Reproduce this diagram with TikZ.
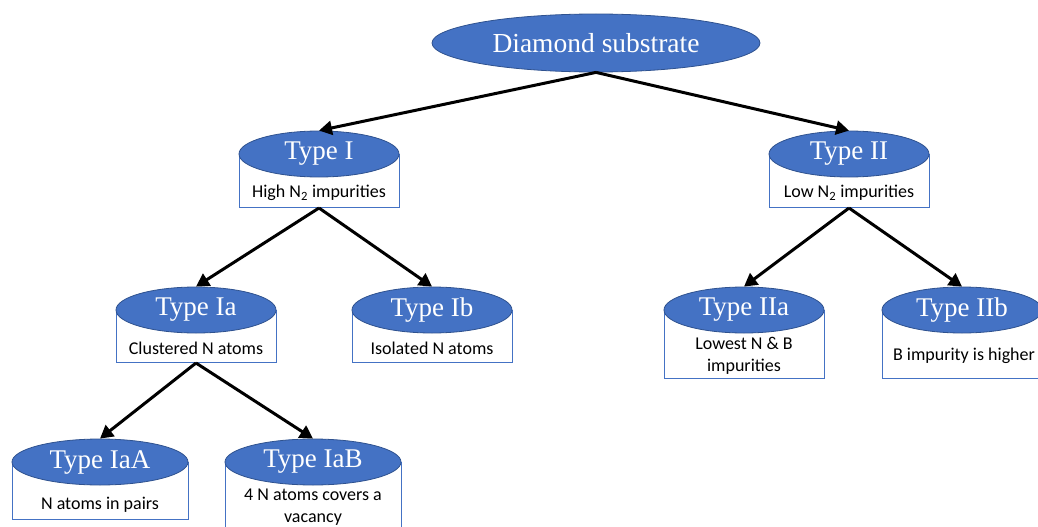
\documentclass[tikz,border=0pt]{standalone}
\usepackage{fontspec}
\setmainfont{Liberation Serif}
\newfontfamily\notefont{Carlito}
\usepackage{xcolor}
\usetikzlibrary{arrows.meta,positioning,shapes.geometric}

\definecolor{officeblue}{HTML}{4472C4}
\definecolor{officeedge}{HTML}{2F528F}

\begin{document}
\begin{tikzpicture}[
    x=1pt, y=-1pt,
    typeball/.style={ellipse, draw=officeedge, line width=0.8pt, fill=officeblue, text=white, inner sep=0pt,
        minimum width=160pt, minimum height=46pt, font=\fontsize{27}{30}\selectfont},
    typebox/.style={rectangle, draw=officeblue, line width=1pt, fill=white, anchor=north, inner sep=0pt, minimum width=160pt},
    note/.style={font=\notefont\fontsize{18}{22}\selectfont, align=center, inner sep=0pt},
    arrow/.style={-{Triangle[length=13pt,width=14pt]}, line width=3pt}
]
\useasboundingbox (0,0) rectangle (1038,527);

% root
\node[typeball, minimum width=328pt, minimum height=58pt, font=\fontsize{27.5}{30}\selectfont] (root) at (596,43) {Diamond substrate};

% Type I / Type II
\node[typebox, minimum height=53pt] (tIbox) at (319,154) {};
\node[typeball] (tI) at (319,154) {Type I};
\node[note] (tInote) at (319,193) {High N\textsubscript{2} impurities};

\node[typebox, minimum height=53pt] (tIIbox) at (849,154) {};
\node[typeball] (tII) at (849,154) {Type II};
\node[note] (tIInote) at (849,193) {Low N\textsubscript{2} impurities};

% second level
\node[typebox, minimum height=52pt] (tIabox) at (196,310) {};
\node[typeball] (tIa) at (196,310) {Type Ia};
\node[note] (tIanote) at (196,348) {Clustered N atoms};

\node[typebox, minimum height=52pt] (tIbbox) at (432,310) {};
\node[typeball] (tIb) at (432,310) {Type Ib};
\node[note] (tIbnote) at (432,348) {Isolated N atoms};

\node[typebox, minimum height=68pt] (tIIabox) at (744,310) {};
\node[typeball] (tIIa) at (744,310) {Type IIa};
\node[note] (tIIanote) at (744,356) {Lowest N \& B\\impurities};

\node[typebox, minimum height=68pt] (tIIbbox) at (962,310) {};
\node[typeball] (tIIb) at (962,310) {Type IIb};
\node[note] (tIIbnote) at (964,356) {B impurity is higher};

% third level
\node[typebox, minimum width=176pt, minimum height=57pt] (tIaAbox) at (100,462) {};
\node[typeball, minimum width=176pt] (tIaA) at (100,462) {Type IaA};
\node[note] (tIaAnote) at (100,505) {N atoms in pairs};

\node[typebox, minimum width=176pt, minimum height=75pt] (tIaBbox) at (313,462) {};
\node[typeball, minimum width=176pt] (tIaB) at (313,462) {Type IaB};
\node[note] (tIaBnote) at (313,507) {4 N atoms covers a\\vacancy};

\foreach \a/\b in {root/tI,root/tII,tIbox/tIa,tIbox/tIb,tIIbox/tIIa,tIIbox/tIIb,tIabox/tIaA,tIabox/tIaB} {
    \draw[arrow] (\a.south) -- (\b.north);
}
\end{tikzpicture}
\end{document}
